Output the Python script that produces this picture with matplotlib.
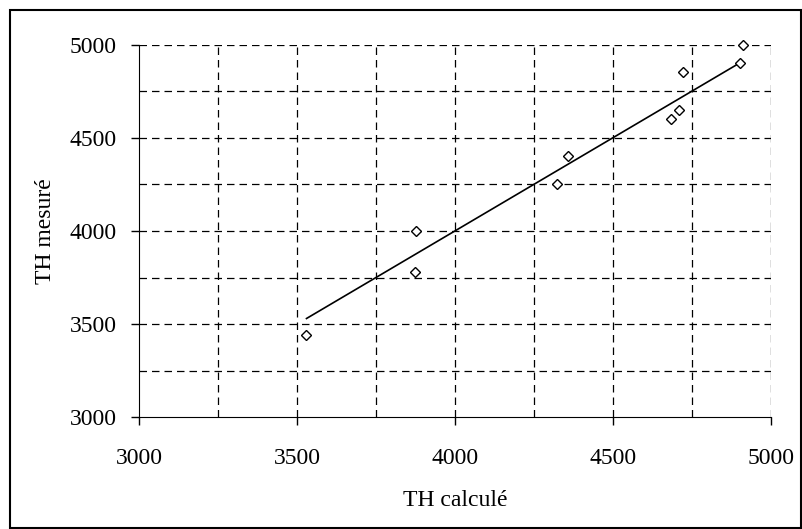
import matplotlib.pyplot as plt
from matplotlib.patches import Rectangle

# values
th_calcule = [3530, 3873, 3877, 4324, 4358, 4683, 4709, 4721, 4901, 4912]
th_mesure = [3440, 3780, 4000, 4250, 4400, 4600, 4650, 4850, 4900, 5000]
trend_x = [3530, 4905]
trend_y = [3530, 4905]

plt.rcParams["font.family"] = ["Liberation Serif", "DejaVu Serif"]

fig = plt.figure(figsize=(8.02, 5.29), dpi=100)
ax = fig.add_axes([139 / 802, 1 - 417.3 / 529, 632 / 802, 372.8 / 529])

# outer frame around the whole chart
fig.patches.append(Rectangle((10 / 802, 1 - 528 / 529), 791 / 802, 518 / 529,
                             transform=fig.transFigure, fill=False,
                             edgecolor="black", linewidth=1.5))

for v in range(3250, 5001, 250):
   ax.axvline(v, color="black", linestyle=(0, (6, 4)), linewidth=0.9, zorder=1)
   ax.axhline(v, color="black", linestyle=(0, (6, 4)), linewidth=0.9, zorder=1)

ax.plot(trend_x, trend_y, color="black", linewidth=1.2, zorder=2)
ax.plot(th_calcule, th_mesure, linestyle="none", marker="D", markersize=4.8,
        markerfacecolor="white", markeredgecolor="black", markeredgewidth=1,
        zorder=3, clip_on=False)

ax.set_xlim(3000, 5000)
ax.set_ylim(3000, 5000)
ax.set_xticks(range(3000, 5001, 500))
ax.set_yticks(range(3000, 5001, 500))
ax.spines["top"].set_visible(False)
ax.spines["right"].set_visible(False)
ax.tick_params(direction="out", length=6, width=1, labelsize=17)
ax.tick_params(axis="x", pad=16)
ax.tick_params(axis="y", pad=10)
ax.set_xlabel("TH calculé", fontsize=17, labelpad=15)
ax.set_ylabel("TH mesuré", fontsize=17, labelpad=10)

fig.savefig("out.png", dpi=100)
